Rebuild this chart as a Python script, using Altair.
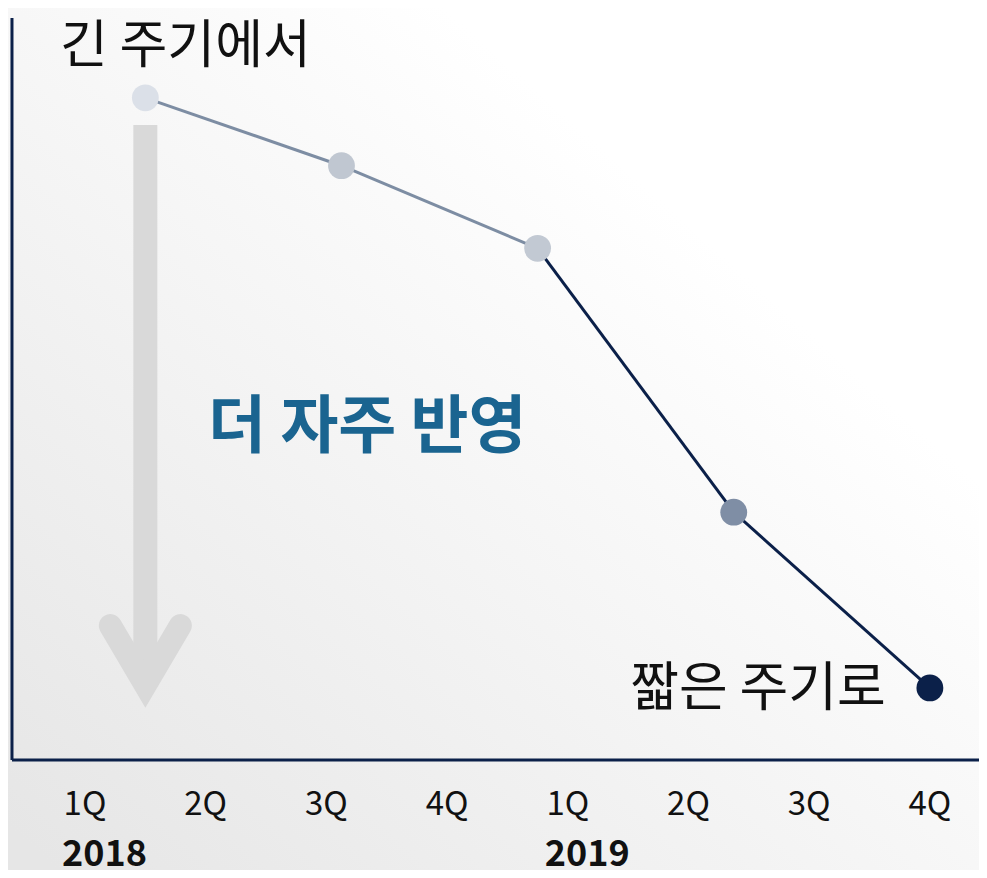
import altair as alt
import pandas as pd

# ---- data ----
quarters = ["1Q", "2Q", "3Q", "4Q", "1Q", "2Q", "3Q", "4Q"]
quarter_pos = [0, 1, 2, 3, 4, 5, 6, 7]
years = ["2018", "2019"]
year_pos = [0, 4]

point_x = [0.5, 2.125, 3.75, 5.375, 7.0]
point_y = [94.6, 84.9, 73.1, 35.4, 10.3]
point_colors = ["#dbe0e8", "#c0c7d1", "#c2c9d3", "#7f8ea5", "#0b2049"]
segment_colors = ["#7d8da3", "#7d8da3", "#0b2049", "#0b2049"]

W, H = 971, 862
XDOM = [-0.638, 7.407]
YDOM = [-15.714, 107.43]
FONT = "Noto Sans CJK KR"
NAVY = "#0b2049"

xs = alt.Scale(domain=XDOM, nice=False, zero=False)
ys = alt.Scale(domain=YDOM, nice=False, zero=False)

pts = pd.DataFrame({"x": point_x, "y": point_y, "c": point_colors})
segs = pd.DataFrame({
    "x": point_x[:-1], "x2": point_x[1:],
    "y": point_y[:-1], "y2": point_y[1:],
    "c": segment_colors,
})

# soft background gradient (area spanning the whole view)
bg_df = pd.DataFrame({"x": XDOM, "y": [YDOM[1]] * 2, "y2": [YDOM[0]] * 2})
bg = alt.Chart(bg_df).mark_area(
    color={"gradient": "linear", "x1": 0, "y1": 0.95, "x2": 0.7, "y2": 0.25,
           "stops": [{"offset": 0, "color": "#e6e6e6"},
                     {"offset": 1, "color": "#ffffff"}]}
).encode(
    x=alt.X("x:Q", scale=xs, axis=None),
    y=alt.Y("y:Q", scale=ys, axis=None), y2="y2:Q")

# axes frame
axis_df = pd.DataFrame({"x": [-0.605, -0.605], "x2": [-0.605, XDOM[1]],
                        "y": [106.0, 0.0], "y2": [0.0, 0.0]})
frame = alt.Chart(axis_df).mark_rule(color=NAVY, strokeWidth=3).encode(
    x=alt.X("x:Q", scale=xs, axis=None), x2="x2:Q",
    y=alt.Y("y:Q", scale=ys, axis=None), y2="y2:Q")

# big gray arrow
shaft_df = pd.DataFrame({"x": [0.5], "y": [90.7], "y2": [12.0]})
shaft = alt.Chart(shaft_df).mark_rule(color="#d9d9d9", strokeWidth=24).encode(
    x=alt.X("x:Q", scale=xs, axis=None),
    y=alt.Y("y:Q", scale=ys, axis=None), y2="y2:Q")

head_df = pd.DataFrame({"x": [0.21, 0.5, 0.79], "y": [19.2, 10.7, 19.2], "o": [0, 1, 2]})
head = alt.Chart(head_df).mark_line(
    color="#d9d9d9", strokeWidth=23, strokeCap="round", strokeJoin="miter"
).encode(
    x=alt.X("x:Q", scale=xs, axis=None),
    y=alt.Y("y:Q", scale=ys, axis=None),
    order="o:Q")

lines = alt.Chart(segs).mark_rule(strokeWidth=3).encode(
    x=alt.X("x:Q", scale=xs, axis=None), x2="x2:Q",
    y=alt.Y("y:Q", scale=ys, axis=None), y2="y2:Q",
    color=alt.Color("c:N", scale=None))

dots = alt.Chart(pts).mark_circle(size=720, opacity=1).encode(
    x=alt.X("x:Q", scale=xs, axis=None),
    y=alt.Y("y:Q", scale=ys, axis=None),
    color=alt.Color("c:N", scale=None))

# texts
q_df = pd.DataFrame({"x": quarter_pos, "t": quarters, "y": [-6.4] * 8})
qlab = alt.Chart(q_df).mark_text(font=FONT, fontSize=33, color="#111111",
                                  baseline="middle", align="center").encode(
    x=alt.X("x:Q", scale=xs, axis=None), y=alt.Y("y:Q", scale=ys, axis=None), text="t:N")

y_df = pd.DataFrame({"x": year_pos, "t": years, "y": [-13.5] * 2})
ylab = alt.Chart(y_df).mark_text(font=FONT, fontSize=36, fontWeight="bold",
                                  color="#111111", baseline="middle", align="left",
                                  dx=-23).encode(
    x=alt.X("x:Q", scale=xs, axis=None), y=alt.Y("y:Q", scale=ys, axis=None), text="t:N")

t1 = alt.Chart(pd.DataFrame({"x": [-0.207], "y": [101.8], "t": ["긴 주기에서"]})).mark_text(
    font=FONT, fontSize=52, color="#111111", align="left", baseline="middle").encode(
    x=alt.X("x:Q", scale=xs, axis=None), y=alt.Y("y:Q", scale=ys, axis=None), text="t:N")

t2 = alt.Chart(pd.DataFrame({"x": [1.02], "y": [47.4], "t": ["더 자주 반영"]})).mark_text(
    font=FONT, fontSize=63, fontWeight="bold", color="#1a6490", align="left",
    baseline="middle").encode(
    x=alt.X("x:Q", scale=xs, axis=None), y=alt.Y("y:Q", scale=ys, axis=None), text="t:N")

t3 = alt.Chart(pd.DataFrame({"x": [7.0], "y": [10.0], "t": ["짧은 주기로"]})).mark_text(
    font=FONT, fontSize=53, color="#111111", align="right", baseline="middle",
    dx=-44).encode(
    x=alt.X("x:Q", scale=xs, axis=None), y=alt.Y("y:Q", scale=ys, axis=None), text="t:N")

chart = alt.layer(bg, shaft, head, frame, lines, dots, qlab, ylab, t1, t2, t3).properties(
    width=W, height=H, padding=0,
    autosize=alt.AutoSizeParams(type="none"),
).configure_view(stroke=None, fill="#f7f7f7")

chart.save("out.html", embed_options={"renderer": "svg", "actions": False})
